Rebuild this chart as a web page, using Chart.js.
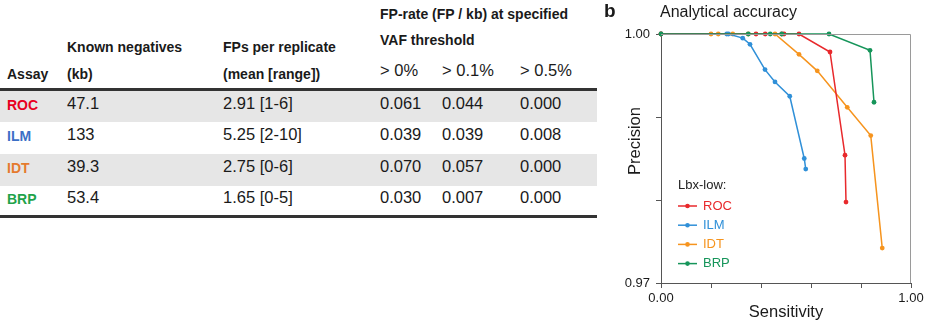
<!DOCTYPE html>
<html>
<head>
<meta charset="utf-8">
<script src="https://cdn.jsdelivr.net/npm/chart.js@4.4.1/dist/chart.umd.min.js"></script>
<style>
  html, body { margin: 0; padding: 0; background: #fff; }
  body { width: 927px; height: 327px; position: relative; overflow: hidden;
         font-family: "Liberation Sans", Arial, Helvetica, sans-serif; color: #1a1a1a; }
  #tbl { position: absolute; left: 0; top: 0; width: 600px; height: 327px; }
  .t { position: absolute; white-space: nowrap; line-height: 20px; transform: translateY(-50%); }
  .h { font-weight: bold; font-size: 14px; }
  .d { font-size: 16.5px; }
  .lab { font-weight: bold; font-size: 14px; }
  .band { position: absolute; left: 0; width: 597px; height: 32px; background: #e6e6e6; }
  .rule { position: absolute; left: 0; width: 597px; height: 3px; background: #333; }
  #wrap { position: absolute; left: 600px; top: 0; width: 327px; height: 327px; }
</style>
</head>
<body>
<div id="tbl"></div>
<div id="wrap"><canvas id="prChart"></canvas></div>
<script>
'use strict';

// table content
const assays = ['ROC', 'ILM', 'IDT', 'BRP'];
const assayColors = ['#e8001f', '#3b6fc6', '#e57a2e', '#1fa34a'];
const knownNeg = ['47.1', '133', '39.3', '53.4'];
const fpsPerRep = ['2.91 [1-6]', '5.25 [2-10]', '2.75 [0-6]', '1.65 [0-5]'];
const rate0 = ['0.061', '0.039', '0.070', '0.030'];
const rate01 = ['0.044', '0.039', '0.057', '0.007'];
const rate05 = ['0.000', '0.008', '0.000', '0.000'];
const thresholds = ['> 0%', '> 0.1%', '> 0.5%'];

// precision / sensitivity curves (Lbx-low)
const rocSens = [0, 0.38, 0.417, 0.483, 0.492, 0.552, 0.676, 0.736, 0.740];
const rocPrec = [1, 1, 1, 1, 1, 1, 0.99783, 0.9854, 0.97975];
const ilmSens = [0, 0.263, 0.27, 0.327, 0.356, 0.416, 0.456, 0.515, 0.573, 0.579];
const ilmPrec = [1, 1, 1, 0.9995, 0.99876, 0.99571, 0.99422, 0.9925, 0.985, 0.98372];
const idtSens = [0, 0.2, 0.229, 0.287, 0.349, 0.456, 0.552, 0.625, 0.745, 0.839, 0.885];
const idtPrec = [1, 1, 1, 1, 1, 1, 0.99755, 0.99556, 0.99117, 0.98776, 0.97421];
const brpSens = [0, 0.349, 0.437, 0.483, 0.672, 0.836, 0.852];
const brpPrec = [1, 1, 1, 1, 1, 0.99803, 0.99178];

const yLabeled = [0.97, 1.00];
const xLabeled = [0, 1];

// ---- table ----
function buildTable() {
  const el = document.getElementById('tbl');
  const cols = [7, 67, 223, 380, 442, 520];
  let html = '';
  [0, 2].forEach(i => { html += `<div class="band" style="top:${90 + i * 32}px"></div>`; });
  html += `<div class="rule" style="top:88px"></div>`;
  html += `<div class="rule" style="top:215px"></div>`;

  html += `<div class="t h" style="left:${cols[3]}px;top:14px">FP-rate (FP / kb) at specified</div>`;
  html += `<div class="t h" style="left:${cols[3]}px;top:40px">VAF threshold</div>`;
  html += `<div class="t h" style="left:${cols[1]}px;top:47px">Known negatives</div>`;
  html += `<div class="t h" style="left:${cols[2]}px;top:47px">FPs per replicate</div>`;
  html += `<div class="t h" style="left:${cols[0]}px;top:74px">Assay</div>`;
  html += `<div class="t h" style="left:${cols[1]}px;top:74px">(kb)</div>`;
  html += `<div class="t h" style="left:${cols[2]}px;top:74px">(mean [range])</div>`;
  thresholds.forEach((s, i) => {
    html += `<div class="t d" style="left:${cols[3 + i]}px;top:70px">${s}</div>`;
  });

  assays.forEach((a, i) => {
    const y = 103 + i * 31.3;
    html += `<div class="t lab" style="left:${cols[0]}px;top:${y + 2}px;color:${assayColors[i]}">${a}</div>`;
    [knownNeg[i], fpsPerRep[i], rate0[i], rate01[i], rate05[i]].forEach((v, j) => {
      html += `<div class="t d" style="left:${cols[j + 1]}px;top:${y}px">${v}</div>`;
    });
  });
  el.innerHTML = html;
}
buildTable();

// ---- chart ----
const toPts = (xs, ys) => xs.map((x, i) => ({ x, y: ys[i] }));
const FONT = '"Liberation Sans", Arial, Helvetica, sans-serif';

function series(label, xs, ys, color, order) {
  return {
    label, data: toPts(xs, ys), order,
    borderColor: color, backgroundColor: color,
    showLine: true, borderWidth: 1.5,
    pointRadius: 2.4, pointBorderWidth: 0, pointHoverRadius: 2.4,
    clip: false
  };
}

const chartDecor = {
  id: 'chartDecor',
  afterDraw(chart) {
    const { ctx, chartArea: a } = chart;
    ctx.save();
    // light box on top/right
    ctx.strokeStyle = '#9a9a9a';
    ctx.lineWidth = 1;
    ctx.beginPath();
    ctx.moveTo(a.left, a.top + 0.5);
    ctx.lineTo(a.right - 0.5, a.top + 0.5);
    ctx.lineTo(a.right - 0.5, a.bottom);
    ctx.stroke();

    ctx.fillStyle = '#1a1a1a';
    ctx.textBaseline = 'middle';
    ctx.font = `bold 19px ${FONT}`;
    ctx.fillText('b', 4, 12);
    ctx.font = `16px ${FONT}`;
    ctx.fillText('Analytical accuracy', 60, 13);

    // axis titles
    ctx.font = `16.5px ${FONT}`;
    ctx.textAlign = 'center';
    ctx.fillText('Sensitivity', (a.left + a.right) / 2, 312);
    ctx.save();
    ctx.translate(35, 141);
    ctx.rotate(-Math.PI / 2);
    ctx.fillText('Precision', 0, 0);
    ctx.restore();

    // legend
    ctx.textAlign = 'left';
    ctx.font = `13px ${FONT}`;
    ctx.fillStyle = '#222';
    ctx.fillText('Lbx-low:', 78, 185);
    const order = ['ROC', 'ILM', 'IDT', 'BRP'];
    order.forEach((name, i) => {
      const ds = chart.data.datasets.find(d => d.label === name);
      const y = 206 + i * 19.2;
      ctx.strokeStyle = ds.borderColor;
      ctx.lineWidth = 1.5;
      ctx.beginPath();
      ctx.moveTo(78, y); ctx.lineTo(97, y);
      ctx.stroke();
      ctx.fillStyle = ds.borderColor;
      ctx.beginPath();
      ctx.arc(87.5, y, 2.3, 0, Math.PI * 2);
      ctx.fill();
      ctx.fillText(name, 103, y);
    });
    ctx.restore();
  }
};

new Chart(document.getElementById('prChart'), {
  type: 'scatter',
  data: {
    datasets: [
      series('ROC', rocSens, rocPrec, '#e8292c', 1),
      series('ILM', ilmSens, ilmPrec, '#3090d8', 2),
      series('IDT', idtSens, idtPrec, '#f6941e', 3),
      series('BRP', brpSens, brpPrec, '#16955a', 0)
    ]
  },
  options: {
    responsive: true, maintainAspectRatio: false, animation: false,
    layout: { padding: { top: 34, right: 16, bottom: 0, left: 0 } },
    plugins: { legend: { display: false }, tooltip: { enabled: false } },
    scales: {
      x: {
        type: 'linear', min: 0, max: 1,
        afterFit: s => { s.height = 44; },
        border: { color: '#555', width: 1 },
        grid: { drawOnChartArea: false, drawTicks: true, tickLength: 5, color: '#555' },
        ticks: {
          stepSize: 0.2, padding: 3, maxRotation: 0, autoSkip: false,
          color: '#1a1a1a', font: { family: FONT, size: 13 },
          callback: v => xLabeled.some(t => Math.abs(t - v) < 1e-6) ? v.toFixed(2) : ''
        }
      },
      y: {
        type: 'linear', min: 0.97, max: 1.0,
        afterFit: s => { s.width = 61; },
        border: { color: '#555', width: 1 },
        grid: { drawOnChartArea: false, drawTicks: true, tickLength: 5, color: '#555' },
        ticks: {
          stepSize: 0.01, padding: 6, autoSkip: false,
          color: '#1a1a1a', font: { family: FONT, size: 13 },
          callback: v => yLabeled.some(t => Math.abs(t - v) < 1e-6) ? v.toFixed(2) : ''
        }
      }
    }
  },
  plugins: [chartDecor]
});
</script>
</body>
</html>
